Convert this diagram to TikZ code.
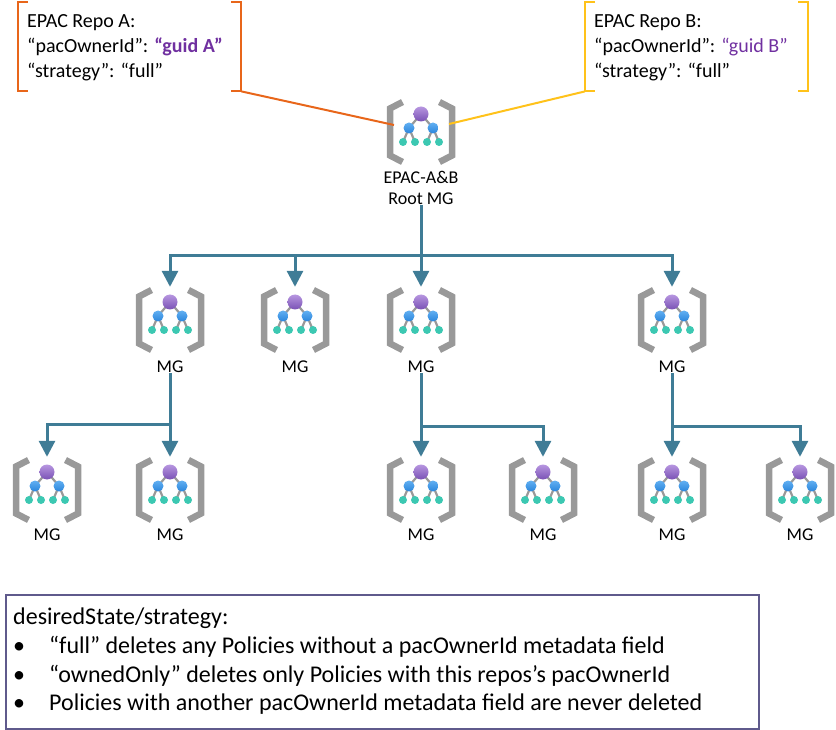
\documentclass[tikz,border=0pt]{standalone}
\usepackage{fontspec}
\setmainfont{Carlito}
\usetikzlibrary{arrows.meta}
\definecolor{repoAColor}{HTML}{E8661A}
\definecolor{repoBColor}{HTML}{FFC21A}
\definecolor{guidColor}{HTML}{7030A0}
\definecolor{treeColor}{HTML}{3F7C96}
\definecolor{noteColor}{HTML}{5F5A8C}
\definecolor{bracketColor}{HTML}{999999}
\definecolor{topLight}{HTML}{B796E0}
\definecolor{topDark}{HTML}{7A52B5}
\definecolor{midLight}{HTML}{62B0F2}
\definecolor{midDark}{HTML}{2A85DC}
\definecolor{leafColor}{HTML}{3CC8B2}
\tikzset{
  mgIcon/.pic={
    \draw[bracketColor, line width=6.5pt] (-18.5,-30) -- (-31,-23.5) -- (-31,23.5) -- (-18.5,30);
    \draw[bracketColor, line width=6.5pt] (18.5,-30) -- (31,-23.5) -- (31,23.5) -- (18.5,30);
    \draw[bracketColor, line width=2.2pt] (-18,10) -- (-12,-4) -- (0,-18) -- (12,-4) -- (18,10);
    \draw[bracketColor, line width=2.2pt] (-6,10) -- (-12,-4);
    \draw[bracketColor, line width=2.2pt] (6,10) -- (12,-4);
    \shade[top color=topLight, bottom color=topDark] (0,-18) circle (7.5pt);
    \foreach \x in {-12,12} {
      \shade[top color=midLight, bottom color=midDark] (\x,-4) circle (5.5pt);
    }
    \foreach \x in {-18,-6,6,18} {
      \fill[leafColor] (\x,10) circle (4pt);
    }
    \node[iconBox] (-box) at (0,0) {};
  }
}
\begin{document}
\begin{tikzpicture}[x=1pt,y=-1pt]

  \tikzstyle{iconBox} = [minimum width=70pt, minimum height=66pt, inner sep=0pt];
  \tikzstyle{mgLabel} = [inner sep=0pt, font=\fontsize{18}{21.5}\selectfont, align=center];
  \tikzstyle{repoNode} = [anchor=north west, minimum width=223pt, minimum height=89pt, inner sep=0pt];
  \tikzstyle{repoText} = [anchor=north west, inner sep=0pt, align=left, font=\fontsize{20}{25}\selectfont];
  \tikzstyle{repoAEdge} = [repoAColor, line width=2pt];
  \tikzstyle{repoBEdge} = [repoBColor, line width=2pt];
  \tikzstyle{treeEdge} = [treeColor, line width=3pt, -{Triangle[length=16pt,width=16pt]}];
  \tikzstyle{noteNode} = [anchor=north west, draw=noteColor, line width=2pt, minimum width=753pt, minimum height=134pt, inner sep=0pt];
  \tikzstyle{noteText} = [anchor=north west, inner sep=0pt, align=left, font=\fontsize{24}{28.7}\selectfont];

  \useasboundingbox (0,0) rectangle (836,730);

  \node[repoNode] (repoA) at (18,2) {};
  \node[repoNode] (repoB) at (585,2) {};
  \node[repoText] (repoAText) at (27,14) {EPAC Repo A:\\“pacOwnerId”: \textcolor{guidColor}{\textbf{“guid A”}}\\“strategy”: “full”};
  \node[repoText] (repoBText) at (594,14) {EPAC Repo B:\\“pacOwnerId”: \textcolor{guidColor}{“guid B”}\\“strategy”: “full”};

  \pic (rootMG) at (421,132) {mgIcon};
  \node[mgLabel] (rootLabel) at (421,188) {EPAC-A\&B\\Root MG};
  \coordinate (rootLeft) at (394,125);
  \coordinate (rootRight) at (449,124);

  \pic (mgA) at (170,320) {mgIcon};
  \pic (mgB) at (295,320) {mgIcon};
  \pic (mgC) at (421,320) {mgIcon};
  \pic (mgD) at (672,320) {mgIcon};
  \node[mgLabel] (mgALabel) at (170,367) {MG};
  \node[mgLabel] (mgBLabel) at (295,367) {MG};
  \node[mgLabel] (mgCLabel) at (421,367) {MG};
  \node[mgLabel] (mgDLabel) at (672,367) {MG};

  \pic (mgAa) at (47,490) {mgIcon};
  \pic (mgAb) at (170,490) {mgIcon};
  \pic (mgCa) at (421,490) {mgIcon};
  \pic (mgCb) at (543,490) {mgIcon};
  \pic (mgDa) at (672,490) {mgIcon};
  \pic (mgDb) at (800,490) {mgIcon};
  \node[mgLabel] (mgAaLabel) at (47,535) {MG};
  \node[mgLabel] (mgAbLabel) at (170,535) {MG};
  \node[mgLabel] (mgCaLabel) at (421,535) {MG};
  \node[mgLabel] (mgCbLabel) at (543,535) {MG};
  \node[mgLabel] (mgDaLabel) at (672,535) {MG};
  \node[mgLabel] (mgDbLabel) at (800,535) {MG};

  \draw[repoAEdge] ([xshift=10pt]repoA.north west) -- (repoA.north west) -- (repoA.south west) -- ([xshift=10pt]repoA.south west);
  \draw[repoAEdge] ([xshift=-10pt]repoA.north east) -- (repoA.north east) -- (repoA.south east) -- ([xshift=-10pt]repoA.south east);
  \draw[repoAEdge] (repoA.south east) -- (rootLeft);
  \draw[repoBEdge] ([xshift=10pt]repoB.north west) -- (repoB.north west) -- (repoB.south west) -- ([xshift=10pt]repoB.south west);
  \draw[repoBEdge] ([xshift=-10pt]repoB.north east) -- (repoB.north east) -- (repoB.south east) -- ([xshift=-10pt]repoB.south east);
  \draw[repoBEdge] (repoB.south west) -- (rootRight);

  \draw[treeEdge] (rootLabel.south) -- ++(0,50) -| (mgA-box.north);
  \draw[treeEdge] (rootLabel.south) -- ++(0,50) -| (mgB-box.north);
  \draw[treeEdge] (rootLabel.south) -- (mgC-box.north);
  \draw[treeEdge] (rootLabel.south) -- ++(0,50) -| (mgD-box.north);

  \draw[treeEdge] (mgALabel.south) -- ++(0,51) -| (mgAa-box.north);
  \draw[treeEdge] (mgALabel.south) -- (mgAb-box.north);
  \draw[treeEdge] (mgCLabel.south) -- (mgCa-box.north);
  \draw[treeEdge] (mgCLabel.south) -- ++(0,53) -| (mgCb-box.north);
  \draw[treeEdge] (mgDLabel.south) -- (mgDa-box.north);
  \draw[treeEdge] (mgDLabel.south) -- ++(0,53) -| (mgDb-box.north);

  \node[noteNode] (note) at (5,594) {};
  \node[noteText] (noteBody) at (13,608) {desiredState/strategy:\\
    \makebox[36pt][l]{\textbullet}“full” deletes any Policies without a pacOwnerId metadata field\\
    \makebox[36pt][l]{\textbullet}“ownedOnly” deletes only Policies with this repos’s pacOwnerId\\
    \makebox[36pt][l]{\textbullet}Policies with another pacOwnerId metadata field are never deleted};

\end{tikzpicture}
\end{document}
